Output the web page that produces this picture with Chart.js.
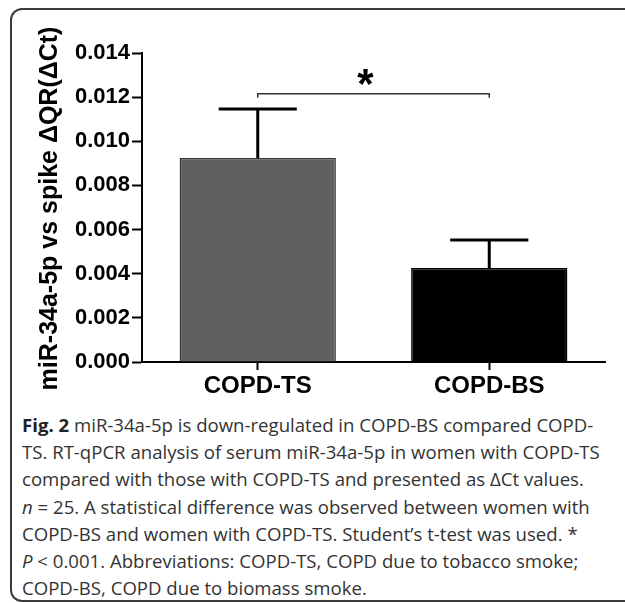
<!DOCTYPE html>
<html>
<head>
<meta charset="utf-8">
<title>miR-34a-5p COPD-TS vs COPD-BS</title>
<script src="https://cdn.jsdelivr.net/npm/chart.js@4.4.1/dist/chart.umd.min.js"></script>
<style>
    body { margin: 0; background: #fff; width: 625px; height: 603px; overflow: hidden; position: relative; }
    .figure-box {
        position: absolute; left: 10px; top: 8px; width: 640px; height: 590px;
        border: 2px solid #3a3a3a; border-radius: 12px;
    }
    #chart { position: absolute; left: 0; top: 0; }
    .caption {
        position: absolute; left: 22px; top: 411px;
        font-family: "Open Sans", sans-serif; font-size: 18.6px; line-height: 27.2px;
        color: #333; white-space: nowrap;
    }
    .caption b { color: #222; }
</style>
</head>
<body>
<div class="figure-box"></div>
<canvas id="chart" width="625" height="400"></canvas>
<div class="caption">
    <div><b>Fig. 2</b> miR-34a-5p is down-regulated in COPD-BS compared COPD-</div>
    <div>TS. RT-qPCR analysis of serum miR-34a-5p in women with COPD-TS</div>
    <div>compared with those with COPD-TS and presented as ΔCt values.</div>
    <div><i>n</i> = 25. A statistical difference was observed between women with</div>
    <div>COPD-BS and women with COPD-TS. Student’s t-test was used. *</div>
    <div><i>P</i> &lt; 0.001. Abbreviations: COPD-TS, COPD due to tobacco smoke;</div>
    <div>COPD-BS, COPD due to biomass smoke.</div>
</div>
<script>
// Datos del gráfico
const categories = ['COPD-TS', 'COPD-BS'];
const meanValues = [0.00924, 0.00426];
const semValues = [0.00222, 0.00127];
const yTicks = [0, 0.002, 0.004, 0.006, 0.008, 0.010, 0.012, 0.014];
const sigLevel = 0.01215;
const sigLabel = '*';
const yTitle = 'miR-34a-5p vs spike ΔQR(ΔCt)';

const axisFont = '"Liberation Sans", Arial, sans-serif';

// Barras de error (SEM), corchete de significancia y título del eje Y
const errorBarsPlugin = {
    id: 'errorBars',
    afterDatasetsDraw(chart) {
        const { ctx, chartArea, scales: { x, y } } = chart;
        const meta = chart.getDatasetMeta(0);
        ctx.save();
        ctx.strokeStyle = '#000';
        ctx.lineWidth = 3;
        meta.data.forEach((bar, i) => {
            const top = y.getPixelForValue(meanValues[i] + semValues[i]);
            const half = bar.width * 0.25;
            ctx.beginPath();
            ctx.moveTo(bar.x, bar.y);
            ctx.lineTo(bar.x, top);
            ctx.moveTo(bar.x - half, top);
            ctx.lineTo(bar.x + half, top);
            ctx.stroke();
        });

        // corchete
        const x0 = x.getPixelForValue(0);
        const x1 = x.getPixelForValue(1);
        const yy = y.getPixelForValue(sigLevel);
        ctx.strokeStyle = '#333';
        ctx.lineWidth = 1.5;
        ctx.beginPath();
        ctx.moveTo(x0, yy + 4);
        ctx.lineTo(x0, yy);
        ctx.lineTo(x1, yy);
        ctx.lineTo(x1, yy + 4);
        ctx.stroke();

        ctx.fillStyle = '#000';
        ctx.font = 'bold 42px ' + axisFont;
        ctx.textAlign = 'center';
        ctx.textBaseline = 'alphabetic';
        ctx.fillText(sigLabel, (x0 + x1) / 2 - 8, yy + 4);

        // título del eje Y (sin compresión de maxWidth)
        ctx.translate(50, (chartArea.top + chartArea.bottom) / 2 + 1);
        ctx.rotate(-Math.PI / 2);
        ctx.font = 'bold 25px ' + axisFont;
        ctx.textBaseline = 'middle';
        ctx.fillText(yTitle, 0, 0);
        ctx.restore();
    }
};

new Chart(document.getElementById('chart'), {
    type: 'bar',
    data: {
        labels: categories,
        datasets: [{
            data: meanValues,
            backgroundColor: ['#606060', '#000000'],
            borderColor: ['#333333', '#000000'],
            borderWidth: 1.5,
            barPercentage: 0.675,
            categoryPercentage: 1
        }]
    },
    options: {
        responsive: false,
        animation: false,
        layout: { padding: { top: 53, right: 20, left: 0, bottom: 0 } },
        plugins: {
            legend: { display: false },
            tooltip: { enabled: false }
        },
        scales: {
            x: {
                grid: {
                    display: true, drawOnChartArea: false, offset: false,
                    tickLength: 8, tickColor: '#000', tickWidth: 2
                },
                border: { color: '#000', width: 2 },
                ticks: {
                    color: '#000', padding: 2,
                    font: { family: axisFont, weight: 'bold', size: 24 }
                },
                afterFit: function (scale) { scale.height = 38; }
            },
            y: {
                min: 0,
                max: 0.014,
                afterBuildTicks: function (scale) {
                    scale.ticks = yTicks.map(v => ({ value: v }));
                },
                grid: {
                    display: true, drawOnChartArea: false,
                    tickLength: 10, tickColor: '#000', tickWidth: 2
                },
                border: { color: '#000', width: 2 },
                ticks: {
                    color: '#000', padding: 2,
                    font: { family: axisFont, weight: 'bold', size: 22 },
                    callback: v => v.toFixed(3)
                },
                afterFit: function (scale) { scale.width = 142; }
            }
        }
    },
    plugins: [errorBarsPlugin]
});
</script>
</body>
</html>
